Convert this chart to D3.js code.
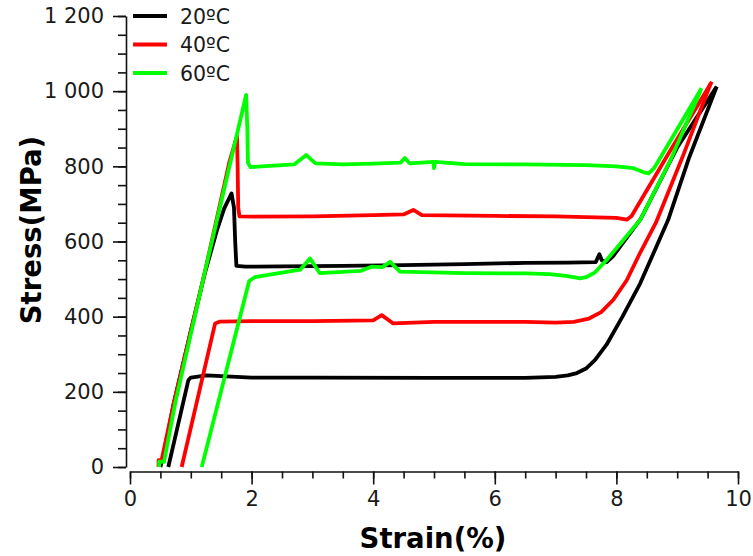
<!DOCTYPE html>
<html>
<head>
<meta charset="utf-8">
<script src="https://cdn.jsdelivr.net/npm/d3@7"></script>
<style>
  body { margin: 0; background: #fff; }
  svg { display: block; font-family: "DejaVu Sans", Verdana, sans-serif; }
  .axis path, .axis line { stroke: #111; stroke-width: 1.6; }
</style>
</head>
<body>
<div id="chart"></div>
<script>
// ── Data (strain %, stress MPa) ────────────────────────────────────────
const seriesLabels = ["20ºC", "40ºC", "60ºC"];

const load20 = [
  [0.50, 0], [0.55, 30], [0.72, 170], [1.0, 362], [1.23, 515], [1.43, 630],
  [1.55, 688], [1.67, 728], [1.71, 690], [1.73, 600], [1.75, 535], [1.9, 533],
  [2.5, 534], [3.5, 535], [4.5, 537], [5.5, 540], [6.5, 543], [7.2, 544],
  [7.66, 545], [7.72, 566], [7.76, 550], [7.84, 545], [7.95, 562], [8.4, 660],
  [9.0, 850], [9.65, 1012]
];
const unload20 = [
  [9.65, 1012], [9.2, 825], [8.85, 657], [8.39, 488], [8.1, 400], [7.84, 326],
  [7.65, 285], [7.5, 262], [7.35, 250], [7.2, 244], [7.0, 240], [6.5, 237],
  [5.0, 237], [3.0, 238], [2.0, 238], [1.26, 244], [1.0, 238], [0.96, 231],
  [0.63, 0]
];

const load40 = [
  [0.47, 0], [0.47, 18], [0.52, 18], [0.72, 170], [1.23, 518], [1.64, 815],
  [1.76, 880], [1.77, 800], [1.78, 690], [1.80, 667], [2.0, 666], [3.0, 667],
  [4.0, 670], [4.5, 672], [4.66, 684], [4.8, 670], [6.0, 668], [7.0, 667],
  [8.0, 663], [8.17, 658], [8.25, 668], [8.88, 840], [9.57, 1025]
];
const unload40 = [
  [9.55, 1020], [9.1, 830], [8.65, 650], [8.39, 570], [8.17, 497], [7.95, 445],
  [7.75, 412], [7.55, 395], [7.3, 386], [7.0, 384], [6.5, 386], [5.0, 386],
  [4.33, 382], [4.14, 404], [4.0, 390], [3.0, 388], [2.0, 388], [1.48, 387],
  [1.40, 382], [0.85, 0]
];

const load60 = [
  [0.48, 0], [0.48, 14], [0.56, 14], [0.75, 175], [1.23, 518], [1.6, 775],
  [1.91, 990], [1.93, 900], [1.94, 810], [1.98, 798], [2.3, 801], [2.7, 805],
  [2.9, 830], [3.05, 808], [3.5, 805], [4.0, 807], [4.45, 810], [4.52, 822],
  [4.6, 808], [4.99, 812], [5.0, 795], [5.02, 812], [5.5, 806], [6.5, 805],
  [7.5, 803], [8.0, 800], [8.28, 795], [8.45, 784], [8.53, 781], [8.62, 795],
  [9.40, 1008]
];
const unload60 = [
  [9.38, 1000], [8.9, 820], [8.39, 657], [7.84, 551], [7.65, 518], [7.5, 505],
  [7.4, 502], [7.2, 508], [6.9, 513], [6.5, 515], [5.5, 516], [4.44, 520],
  [4.28, 546], [4.15, 532], [3.97, 533], [3.8, 522], [3.12, 516], [2.96, 555],
  [2.8, 525], [2.3, 512], [2.05, 505], [1.96, 495], [1.18, 0]
];

const xTicks = [0, 2, 4, 6, 8, 10];
const yTicks = [0, 200, 400, 600, 800, 1000, 1200];

// ── SVG ────────────────────────────────────────────────────────────────
const W = 753, H = 556;
const svg = d3.select("#chart").append("svg").attr("width", W).attr("height", H);

const x = d3.scaleLinear().domain([0, 10]).range([130, 738]);
const y = d3.scaleLinear().domain([0, 1200]).range([467, 16]);

const fmt = d3.formatLocale({ decimal: ".", thousands: " ", grouping: [3], currency: ["", ""] }).format(",");

// ── Axes ───────────────────────────────────────────────────────────────
const xAxisY = 471.5, yAxisX = 126;

svg.append("g").attr("class", "axis")
  .attr("transform", `translate(0,${xAxisY})`)
  .call(d3.axisBottom(x).tickValues(d3.range(0, 10.01, 0.5)).tickSize(7).tickSizeOuter(0).tickFormat(""));

svg.append("g").attr("class", "axis")
  .attr("transform", `translate(0,${xAxisY})`)
  .call(d3.axisBottom(x).tickValues(xTicks).tickSize(13).tickSizeOuter(0).tickPadding(7).tickFormat(d3.format("d")))
  .call((g) => g.select(".domain").remove());

svg.append("g").attr("class", "axis")
  .attr("transform", `translate(${yAxisX},0)`)
  .call(d3.axisLeft(y).tickValues(d3.range(0, 1201, 50)).tickSize(8).tickSizeOuter(0).tickFormat(""));

svg.append("g").attr("class", "axis")
  .attr("transform", `translate(${yAxisX},0)`)
  .call(d3.axisLeft(y).tickValues(yTicks).tickSize(13).tickSizeOuter(0).tickPadding(9).tickFormat(fmt))
  .call((g) => g.select(".domain").remove());

svg.selectAll(".axis")
  .attr("font-family", null)
  .attr("font-size", null);
svg.selectAll(".axis text")
  .style("font-size", "21px")
  .style("fill", "#1a1a1a");

// ── Axis labels ────────────────────────────────────────────────────────
svg.append("text")
  .attr("x", 433).attr("y", 548)
  .attr("text-anchor", "middle")
  .style("font-size", "27.5px").style("font-weight", "bold")
  .text("Strain(%)");

svg.append("text")
  .attr("transform", "translate(41,230) rotate(-90)")
  .attr("text-anchor", "middle")
  .style("font-size", "27.5px").style("font-weight", "bold")
  .text("Stress(MPa)");

// ── Curves ─────────────────────────────────────────────────────────────
const colors = ["#000000", "#ff0000", "#00ff00"];
const curves = [
  [load20, unload20],
  [load40, unload40],
  [load60, unload60]
];

const line = d3.line().x((d) => x(d[0])).y((d) => y(d[1]));

curves.forEach((pair, i) => {
  pair.forEach((pts) => {
    svg.append("path")
      .datum(pts)
      .attr("fill", "none")
      .attr("stroke", colors[i])
      .attr("stroke-width", 3.8)
      .attr("stroke-linejoin", "round")
      .attr("d", line);
  });
});

// ── Legend ─────────────────────────────────────────────────────────────
const legend = svg.append("g");
seriesLabels.forEach((label, i) => {
  const ly = 16 + i * 28.5;
  legend.append("line")
    .attr("x1", 133).attr("x2", 167).attr("y1", ly).attr("y2", ly)
    .attr("stroke", colors[i]).attr("stroke-width", 4);
  legend.append("text")
    .attr("x", 180).attr("y", ly + 7.5)
    .style("font-size", "20.5px").style("fill", "#1a1a1a")
    .text(label);
});
</script>
</body>
</html>
